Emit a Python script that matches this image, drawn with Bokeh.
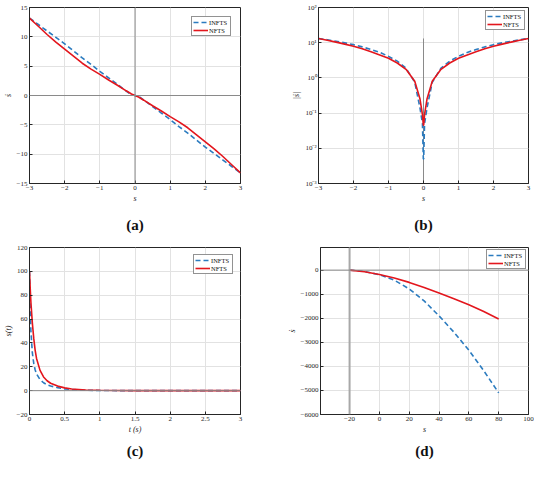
from bokeh.plotting import figure
from bokeh.models import Range1d, FixedTicker, Span, Legend, LegendItem, Title
from bokeh.layouts import column, row
from bokeh.embed import file_html
from bokeh.resources import INLINE

# ---------------- data ----------------
# panels (a) and (b): s vs s-dot
s_vals = [-3, -2.75, -2.5, -2.25, -2, -1.75, -1.5, -1.25, -1, -0.75, -0.5, -0.25, -0.1, -0.03, -0.005,
          0.005, 0.03, 0.1, 0.25, 0.5, 0.75, 1, 1.25, 1.5, 1.75, 2, 2.25, 2.5, 2.75, 3]
nfts_sdot = [13.2, 11.8, 10.4, 9.1, 7.9, 6.7, 5.5, 4.5, 3.6, 2.65, 1.75, 0.8, 0.25, 0.09, 0.045,
             -0.045, -0.09, -0.25, -0.8, -1.75, -2.65, -3.6, -4.5, -5.5, -6.7, -7.9, -9.1, -10.4, -11.8, -13.2]
infts_sdot = [13.2, 12.1, 11.0, 9.9, 8.8, 7.6, 6.4, 5.3, 4.1, 3.0, 1.9, 0.75, 0.14, 0.05, 0.005,
              -0.005, -0.05, -0.14, -0.75, -1.9, -3.0, -4.1, -5.3, -6.4, -7.6, -8.8, -9.9, -11.0, -12.1, -13.2]

# panel (c): time response s(t)
t_vals = [0, 0.01, 0.02, 0.04, 0.06, 0.08, 0.1, 0.15, 0.2, 0.25, 0.3, 0.4, 0.5, 0.6, 0.8, 1.0, 1.25, 1.5, 2, 2.5, 3]
nfts_st = [100, 86, 74, 57, 44, 34, 27, 17, 11.5, 8.3, 6.2, 3.8, 2.3, 1.4, 0.6, 0.3, 0.12, 0.05, 0.01, 0, 0]
infts_st = [100, 70, 50, 32, 23, 17.5, 14, 9.2, 6.6, 5.0, 3.9, 2.5, 1.5, 0.9, 0.35, 0.12, 0.04, 0.01, 0, 0, 0]

# panel (d): wide range of s
sd_vals = [-20, -10, 0, 10, 20, 30, 40, 50, 60, 70, 80]
nfts_d = [0, -65, -180, -330, -510, -720, -950, -1190, -1440, -1720, -2030]
infts_d = [0, -55, -190, -420, -780, -1280, -1900, -2580, -3330, -4180, -5100]

# ticks
a_xticks = [-3, -2, -1, 0, 1, 2, 3]
a_yticks = [-15, -10, -5, 0, 5, 10, 15]
b_yticks = [0.001, 0.01, 0.1, 1, 10, 100]
b_ylabels = ["10\u207b\u00b3", "10\u207b\u00b2", "10\u207b\u00b9", "10\u2070", "10\u00b9", "10\u00b2"]
c_xticks = [0, 0.5, 1, 1.5, 2, 2.5, 3]
c_yticks = [-20, 0, 20, 40, 60, 80, 100, 120]
d_xticks = [-20, 0, 20, 40, 60, 80, 100]
d_yticks = [-6000, -5000, -4000, -3000, -2000, -1000, 0]

BLUE = "#2b7bbf"
RED = "#e3161d"
DARK = "#262626"
FONT = "Liberation Serif"


def fmt(v):
    txt = ("%g" % abs(v))
    return ("\u2212" + txt) if v < 0 else txt


def style(p, xticks, yticks, xlabel, ylabel, caption, cap_standoff, ylabels=None):
    p.outline_line_color = DARK
    p.outline_line_width = 1
    p.xaxis.ticker = FixedTicker(ticks=xticks)
    p.yaxis.ticker = FixedTicker(ticks=yticks)
    p.xaxis.major_label_overrides = {v: fmt(v) for v in xticks}
    if ylabels is None:
        p.yaxis.major_label_overrides = {v: fmt(v) for v in yticks}
    else:
        p.yaxis.major_label_overrides = dict(zip(yticks, ylabels))
    for ax in p.axis:
        ax.axis_line_color = DARK
        ax.major_tick_line_color = DARK
        ax.major_tick_in = 3
        ax.major_tick_out = 0
        ax.minor_tick_line_color = None
        ax.major_label_text_font = FONT
        ax.major_label_text_font_size = "7px"
        ax.major_label_text_color = DARK
        ax.major_label_standoff = 2
        ax.axis_label_text_font = FONT
        ax.axis_label_text_font_size = "8px"
        ax.axis_label_text_font_style = "italic"
        ax.axis_label_text_color = DARK
        ax.axis_label_standoff = 1
    p.xaxis.axis_label = xlabel
    p.yaxis.axis_label = ylabel
    p.grid.grid_line_color = "#e2e2e2"
    p.grid.grid_line_width = 1
    cap = Title(text=caption, align="center", text_font=FONT, text_font_size="15px",
                text_font_style="bold", text_color="#111111", standoff=cap_standoff)
    p.add_layout(cap, "below")


def add_legend(p, r_blue, r_red, margin):
    leg = Legend(items=[LegendItem(label="INFTS", renderers=[r_blue]),
                        LegendItem(label="NFTS", renderers=[r_red])],
                 location="top_right")
    leg.margin = margin
    leg.padding = 1
    leg.spacing = 0
    leg.glyph_width = 15
    leg.glyph_height = 8
    leg.label_height = 8
    leg.label_standoff = 1
    leg.label_text_font = FONT
    leg.label_text_font_size = "6.5px"
    leg.label_text_color = "#111111"
    leg.border_line_color = DARK
    leg.border_line_width = 1
    leg.background_fill_alpha = 1
    p.add_layout(leg)


common = dict(output_backend="svg", toolbar_location=None)

# ---------- (a) ----------
pa = figure(width=276, height=242, x_range=Range1d(-3, 3), y_range=Range1d(-15, 15),
            min_border_left=27, min_border_right=36, min_border_top=7, min_border_bottom=56, **common)
pa.add_layout(Span(location=0, dimension="height", line_color="#8a8a8a", line_width=1))
pa.add_layout(Span(location=0, dimension="width", line_color="#8a8a8a", line_width=1))
rb = pa.line(s_vals, infts_sdot, line_color=BLUE, line_width=1.6, line_dash="5 3")
rr = pa.line(s_vals, nfts_sdot, line_color=RED, line_width=1.6)
style(pa, a_xticks, a_yticks, "s", "\u1e61", "(a)", 19)
add_legend(pa, rb, rr, 9)

# ---------- (b) ----------
pb = figure(width=258, height=242, x_range=Range1d(-3, 3), y_range=Range1d(1e-3, 1e2), y_axis_type="log",
            min_border_left=42, min_border_right=6, min_border_top=7, min_border_bottom=56, **common)
pb.line([0, 0], [1e-3, max(abs(v) for v in nfts_sdot)], line_color="#8a8a8a", line_width=1)
rb = pb.line(s_vals, [abs(v) for v in infts_sdot], line_color=BLUE, line_width=1.6, line_dash="5 3")
rr = pb.line(s_vals, [abs(v) for v in nfts_sdot], line_color=RED, line_width=1.6)
style(pb, a_xticks, b_yticks, "s", "|\u1e61|", "(b)", 19, ylabels=b_ylabels)
add_legend(pb, rb, rr, 3)

# ---------- (c) ----------
pc = figure(width=276, height=220, x_range=Range1d(0, 3), y_range=Range1d(-20, 120),
            min_border_left=27, min_border_right=36, min_border_top=5, min_border_bottom=44, **common)
pc.add_layout(Span(location=0, dimension="width", line_color="#8a8a8a", line_width=1))
rb = pc.line(t_vals, infts_st, line_color=BLUE, line_width=1.6, line_dash="5 3")
rr = pc.line(t_vals, nfts_st, line_color=RED, line_width=1.6)
style(pc, c_xticks, c_yticks, "t (s)", "s(t)", "(c)", 8)
add_legend(pc, rb, rr, 7)

# ---------- (d) ----------
pd_ = figure(width=258, height=220, x_range=Range1d(-39.5, 100), y_range=Range1d(-6000, 940),
             min_border_left=44, min_border_right=6, min_border_top=5, min_border_bottom=44, **common)
pd_.add_layout(Span(location=-20, dimension="height", line_color="#a8a8a8", line_width=2))
pd_.add_layout(Span(location=0, dimension="width", line_color="#8a8a8a", line_width=1))
rb = pd_.line(sd_vals, infts_d, line_color=BLUE, line_width=1.6, line_dash="5 3")
rr = pd_.line(sd_vals, nfts_d, line_color=RED, line_width=1.6)
style(pd_, d_xticks, d_yticks, "s", "\u1e61", "(d)", 8)
add_legend(pd_, rb, rr, 2)

layout = column(row(pa, pb, spacing=0), row(pc, pd_, spacing=0), spacing=0)
open("out.html", "w").write(file_html(layout, INLINE))
